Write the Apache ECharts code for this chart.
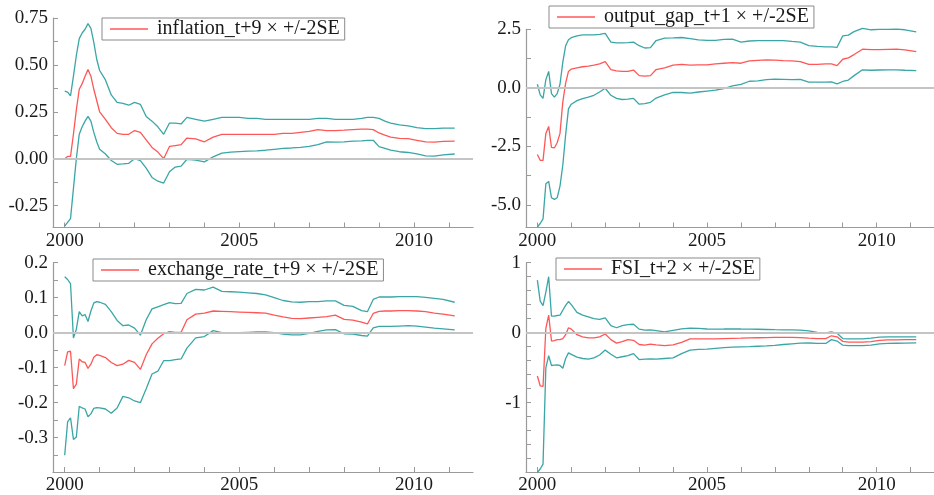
<!DOCTYPE html>
<html>
<head>
<meta charset="utf-8">
<script src="https://cdn.jsdelivr.net/npm/echarts@6/dist/echarts.min.js"></script>
<style>html,body{margin:0;padding:0;background:#fff;}#c{width:934px;height:495px;}</style>
</head>
<body>
<div id="c"></div>
<script>
// months since Jan 2000
const months = [0,1,2,3,4,5,6,7,8,9,10,11,12,14,16,18,20,22,24,26,28,30,32,34,36,38,40,42,45,48,51,54,57,60,63,66,69,72,75,78,81,84,87,90,93,96,99,102,104,106,108,110,112,115,118,121,124,127,130,134];

const inflUp = [0.36,0.355,0.335,0.44,0.55,0.64,0.67,0.69,0.72,0.695,0.62,0.53,0.47,
  0.42,0.34,0.30,0.295,0.285,0.30,0.29,0.225,0.20,0.17,0.13,0.19,0.19,0.185,0.22,
  0.21,0.20,0.21,0.22,0.22,0.22,0.215,0.215,0.21,0.21,0.21,0.21,0.21,0.21,0.215,0.215,0.21,0.21,0.21,0.215,
  0.22,0.22,0.215,0.20,0.19,
  0.18,0.175,0.165,0.16,0.16,0.163,0.163];
const inflMid = [0.0,0.012,0.012,0.13,0.26,0.37,0.40,0.44,0.475,0.44,0.37,0.31,0.25,
  0.21,0.165,0.135,0.13,0.13,0.15,0.14,0.10,0.06,0.035,0.0,0.065,0.07,0.075,0.11,
  0.105,0.09,0.115,0.13,0.13,0.13,0.13,0.13,0.13,0.13,0.135,0.135,0.14,0.145,0.155,0.15,0.15,0.152,0.155,0.157,
  0.157,0.155,0.137,0.125,0.115,
  0.108,0.107,0.098,0.089,0.088,0.092,0.093];
const inflLo = [-0.36,-0.34,-0.32,-0.16,0.0,0.13,0.17,0.20,0.225,0.20,0.14,0.09,0.05,
  0.025,-0.01,-0.03,-0.028,-0.025,0.0,-0.01,-0.05,-0.10,-0.12,-0.13,-0.07,-0.045,-0.04,-0.003,
  -0.008,-0.017,0.01,0.03,0.035,0.038,0.04,0.042,0.045,0.05,0.055,0.057,0.06,0.065,0.075,0.09,0.088,0.09,0.093,0.095,
  0.097,0.098,0.064,0.055,0.045,
  0.037,0.033,0.025,0.015,0.014,0.02,0.025];

const gapUp = [0.15,-0.30,-0.45,0.35,0.70,-0.25,-0.40,-0.25,0.15,1.1,1.8,2.05,2.14,
  2.22,2.26,2.26,2.26,2.28,2.33,1.95,1.92,1.92,1.93,1.95,1.80,1.70,1.72,2.02,
  2.12,2.13,2.15,2.10,2.05,2.03,2.03,2.07,2.08,1.95,2.0,2.02,2.02,2.02,2.02,1.98,1.95,1.80,1.77,1.75,
  1.75,1.73,2.22,2.25,2.40,
  2.54,2.48,2.50,2.50,2.51,2.48,2.39];
const gapMid = [-2.85,-3.1,-3.1,-1.95,-1.65,-2.55,-2.57,-2.35,-1.95,-0.6,0.2,0.7,0.8,
  0.85,0.9,0.93,0.97,1.02,1.12,0.78,0.72,0.70,0.70,0.76,0.52,0.50,0.52,0.78,
  0.85,0.97,1.0,0.97,0.98,0.98,1.02,1.05,1.08,1.05,1.15,1.17,1.19,1.18,1.16,1.15,1.12,1.0,1.0,1.02,
  1.02,0.95,1.22,1.28,1.42,
  1.65,1.63,1.63,1.64,1.65,1.62,1.55];
const gapLo = [-5.95,-5.8,-5.6,-4.1,-4.0,-4.7,-4.77,-4.7,-4.2,-3.3,-2.0,-0.9,-0.7,
  -0.55,-0.46,-0.40,-0.32,-0.18,-0.02,-0.32,-0.45,-0.50,-0.48,-0.45,-0.70,-0.68,-0.62,-0.44,
  -0.3,-0.2,-0.2,-0.23,-0.18,-0.14,-0.1,-0.03,0.08,0.15,0.28,0.30,0.35,0.37,0.36,0.35,0.36,0.24,0.24,0.24,
  0.25,0.17,0.27,0.33,0.52,
  0.77,0.75,0.76,0.77,0.77,0.75,0.73];

const fxUp = [0.16,0.152,0.14,-0.015,0.01,0.06,0.048,0.052,0.032,0.062,0.085,0.089,0.087,
  0.081,0.06,0.035,0.02,0.022,0.013,-0.007,0.037,0.068,0.074,0.08,0.086,0.083,0.084,0.112,
  0.124,0.122,0.13,0.118,0.117,0.116,0.114,0.112,0.108,0.10,0.092,0.088,0.087,0.089,0.089,0.091,0.091,0.078,0.075,0.063,
  0.06,0.095,0.102,0.102,0.102,
  0.103,0.103,0.103,0.101,0.098,0.095,0.087];
const fxMid = [-0.094,-0.055,-0.053,-0.16,-0.147,-0.075,-0.083,-0.085,-0.102,-0.09,-0.07,-0.063,-0.065,
  -0.071,-0.085,-0.094,-0.09,-0.079,-0.085,-0.105,-0.063,-0.032,-0.016,-0.003,0.003,0.001,0.001,0.037,
  0.053,0.056,0.062,0.061,0.06,0.059,0.058,0.057,0.056,0.05,0.045,0.041,0.04,0.042,0.044,0.046,0.05,0.038,0.036,0.03,
  0.025,0.055,0.061,0.062,0.062,
  0.063,0.063,0.062,0.06,0.056,0.053,0.048];
const fxLo = [-0.35,-0.255,-0.243,-0.305,-0.298,-0.21,-0.215,-0.218,-0.24,-0.232,-0.216,-0.214,-0.215,
  -0.218,-0.23,-0.215,-0.182,-0.186,-0.195,-0.2,-0.16,-0.118,-0.11,-0.08,-0.08,-0.077,-0.075,-0.044,
  -0.015,-0.011,0.006,0.0,-0.001,0.0,0.001,0.002,0.002,0.0,-0.004,-0.006,-0.006,-0.002,0.004,0.008,0.009,-0.003,-0.004,-0.008,
  -0.01,0.014,0.018,0.018,0.018,
  0.019,0.02,0.019,0.016,0.013,0.011,0.008];

const fsiUp = [0.75,0.45,0.385,0.58,0.80,0.235,0.235,0.245,0.25,0.32,0.39,0.445,0.40,
  0.29,0.25,0.225,0.20,0.19,0.21,0.10,0.07,0.10,0.115,0.12,0.05,0.035,0.04,0.03,
  0.01,0.033,0.055,0.065,0.06,0.052,0.05,0.052,0.055,0.052,0.05,0.048,0.045,0.042,0.04,0.038,0.035,0.025,0.005,-0.005,
  0.01,-0.01,-0.085,-0.09,-0.09,
  -0.09,-0.08,-0.065,-0.062,-0.062,-0.062,-0.062];
const fsiMid = [-0.62,-0.76,-0.77,0.06,0.25,-0.12,-0.115,-0.1,-0.1,-0.085,-0.03,0.07,0.05,
  -0.03,-0.06,-0.075,-0.075,-0.06,-0.02,-0.1,-0.15,-0.13,-0.1,-0.11,-0.17,-0.18,-0.165,-0.175,
  -0.185,-0.176,-0.14,-0.09,-0.09,-0.09,-0.088,-0.085,-0.082,-0.08,-0.076,-0.073,-0.07,-0.068,-0.067,-0.067,-0.07,-0.08,-0.086,-0.086,
  -0.045,-0.06,-0.125,-0.135,-0.135,
  -0.135,-0.13,-0.11,-0.105,-0.103,-0.1,-0.1];
const fsiLo = [-2.0,-1.95,-1.88,-0.5,-0.33,-0.47,-0.465,-0.46,-0.47,-0.51,-0.37,-0.29,-0.31,
  -0.35,-0.37,-0.38,-0.36,-0.32,-0.25,-0.31,-0.36,-0.345,-0.33,-0.3,-0.385,-0.38,-0.375,-0.38,
  -0.37,-0.36,-0.3,-0.25,-0.24,-0.235,-0.225,-0.215,-0.208,-0.204,-0.2,-0.195,-0.19,-0.183,-0.17,-0.16,-0.15,-0.148,-0.155,-0.155,
  -0.1,-0.12,-0.18,-0.185,-0.185,
  -0.185,-0.18,-0.16,-0.155,-0.152,-0.15,-0.147];

const legendNames = ['inflation_t+9 \u00d7 +/-2SE','output_gap_t+1 \u00d7 +/-2SE','exchange_rate_t+9 \u00d7 +/-2SE','FSI_t+2 \u00d7 +/-2SE'];
const xTickValues = [2000,2001,2002,2003,2004,2005,2006,2007,2008,2009,2010,2011];
const xLabelValues = [2000,2005,2010];
const yLabels = [[0.75,0.5,0.25,0,-0.25],[2.5,0,-2.5,-5],[0.2,0.1,0,-0.1,-0.2,-0.3],[1,0,-1]];
const yTicks = [
  [0.75,0.625,0.5,0.375,0.25,0.125,0,-0.125,-0.25],
  [2.5,1.25,0,-1.25,-2.5,-3.75,-5],
  [0.2,0.15,0.1,0.05,0,-0.05,-0.1,-0.15,-0.2,-0.25,-0.3,-0.35],
  [1,0.8,0.6,0.4,0.2,0,-0.2,-0.4,-0.6,-0.8,-1,-1.2,-1.4,-1.6,-1.8]
];
const yDecimals = [2,1,1,0];
const yRange = [[-0.367,0.75],[-5.97,2.5],[-0.398,0.2],[-1.993,1]];

const panels = [[inflUp,inflMid,inflLo],[gapUp,gapMid,gapLo],[fxUp,fxMid,fxLo],[fsiUp,fsiMid,fsiLo]];

const gridPos = [
  {left:53, top:18, width:420, height:209.5},
  {left:526, top:29.3, width:420, height:198.2},
  {left:53, top:262.7, width:420, height:210},
  {left:526, top:262.7, width:420, height:210}
];
const legendPos = [
  {left:102, top:18},
  {left:549, top:6},
  {left:93, top:259},
  {left:556, top:258}
];

const FONT = 'Liberation Serif';
const AX = '#9a9a9a';
const RED = '#ff5757';
const TEAL = '#3aa6a6';

const xyPairs = arr => arr.map((v,i)=>[2000 + months[i]/12, v]);

const option = {
  animation:false,
  backgroundColor:'#fff',
  grid: gridPos.map(g=>Object.assign({containLabel:false}, g)),
  legend: legendPos.map((p,i)=>({
    left:p.left, top:p.top, data:[legendNames[i]],
    icon:'rect', itemWidth:38, itemHeight:1.5,
    borderColor:'#8a8a8a', borderWidth:1, padding:[1,5,1,8],
    selectedMode:false,
    textStyle:{fontFamily:FONT, fontSize:20, color:'#1a1a1a', lineHeight:20, padding:[0,0,0,4]}
  })),
  xAxis: gridPos.map((g,i)=>({
    type:'value', gridIndex:i, min:1999.665, max:2011.69,
    splitLine:{show:false},
    axisLine:{show:true, onZero:false, lineStyle:{color:AX, width:1.2}},
    axisTick:{show:true, inside:true, length:5, customValues:xTickValues, lineStyle:{color:AX}},
    axisLabel:{customValues:xLabelValues, margin:4, fontFamily:FONT, fontSize:19, color:'#1a1a1a', formatter:v=>String(Math.round(v))}
  })),
  yAxis: gridPos.map((g,i)=>({
    type:'value', gridIndex:i, min:yRange[i][0], max:yRange[i][1],
    splitLine:{show:false},
    axisLine:{show:true, onZero:false, lineStyle:{color:AX, width:1.2}},
    axisTick:{show:true, inside:true, length:5, customValues:yTicks[i], lineStyle:{color:AX}},
    axisLabel:{customValues:yLabels[i], margin:5, fontFamily:FONT, fontSize:19, color:'#1a1a1a', formatter:v=>Number(v).toFixed(yDecimals[i])}
  })),
  series: []
};

panels.forEach((p,i)=>{
  option.series.push({
    type:'line', name:'upper band '+i, xAxisIndex:i, yAxisIndex:i, data:xyPairs(p[0]),
    symbol:'none', clip:false, lineStyle:{color:TEAL, width:1.3}, itemStyle:{color:TEAL},
    markLine:{silent:true, symbol:'none', label:{show:false}, lineStyle:{color:'#c4c4c4', width:1.8, type:'solid'}, data:[{yAxis:0}]}
  });
  option.series.push({
    type:'line', name:legendNames[i], xAxisIndex:i, yAxisIndex:i, data:xyPairs(p[1]),
    symbol:'none', clip:false, lineStyle:{color:RED, width:1.3}, itemStyle:{color:RED}
  });
  option.series.push({
    type:'line', name:'lower band '+i, xAxisIndex:i, yAxisIndex:i, data:xyPairs(p[2]),
    symbol:'none', clip:false, lineStyle:{color:TEAL, width:1.3}, itemStyle:{color:TEAL}
  });
});

const chart = echarts.init(document.getElementById('c'), null, {renderer:'canvas'});
chart.setOption(option);
</script>
</body>
</html>
